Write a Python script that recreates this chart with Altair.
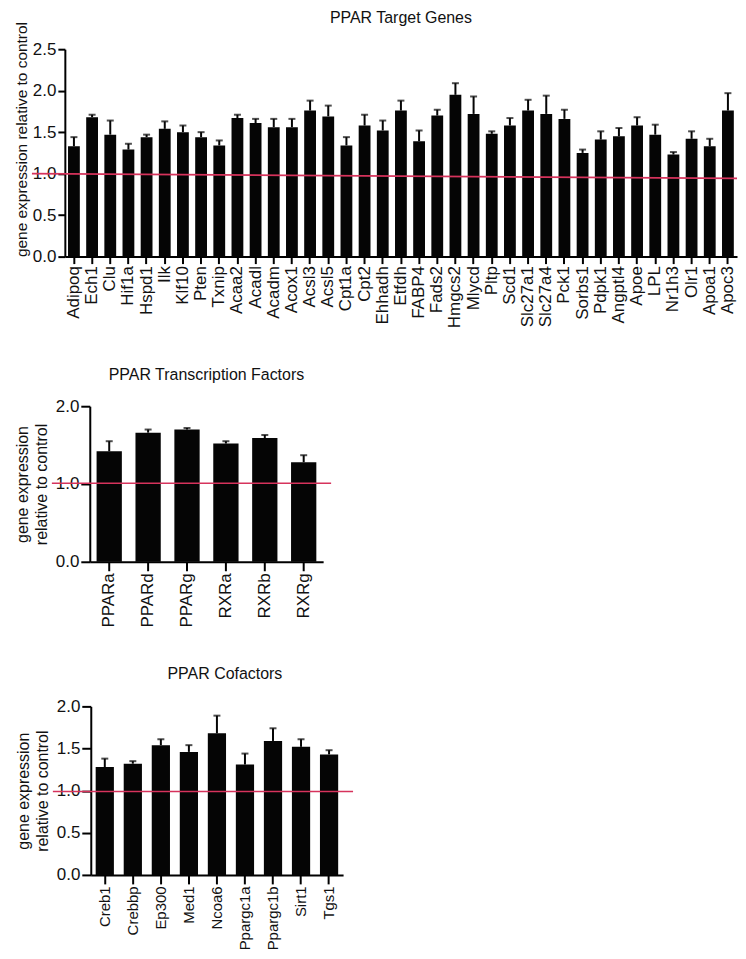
import altair as alt
import pandas as pd

# ---------------- data ----------------
target_genes = ["Adipoq", "Ech1", "Clu", "Hif1a", "Hspd1", "Ilk", "Klf10", "Pten", "Txnip",
                "Acaa2", "Acadl", "Acadm", "Acox1", "Acsl3", "Acsl5", "Cpt1a", "Cpt2", "Ehhadh",
                "Etfdh", "FABP4", "Fads2", "Hmgcs2", "Mlycd", "Pltp", "Scd1", "Slc27a1", "Slc27a4",
                "Pck1", "Sorbs1", "Pdpk1", "Angptl4", "Apoe", "LPL", "Nr1h3", "Olr1", "Apoa1", "Apoc3"]
target_mean = [1.33, 1.68, 1.47, 1.29, 1.44, 1.54, 1.50, 1.44, 1.34,
               1.67, 1.61, 1.56, 1.56, 1.76, 1.69, 1.34, 1.58, 1.52,
               1.76, 1.39, 1.70, 1.95, 1.72, 1.48, 1.58, 1.76, 1.72,
               1.66, 1.25, 1.41, 1.45, 1.58, 1.47, 1.23, 1.42, 1.33, 1.76]
target_err = [0.11, 0.03, 0.17, 0.07, 0.03, 0.09, 0.08, 0.06, 0.06,
              0.04, 0.05, 0.10, 0.10, 0.12, 0.13, 0.10, 0.13, 0.12,
              0.12, 0.13, 0.07, 0.14, 0.21, 0.03, 0.09, 0.13, 0.22,
              0.11, 0.04, 0.10, 0.10, 0.10, 0.12, 0.03, 0.09, 0.09, 0.21]

tf_genes = ["PPARa", "PPARd", "PPARg", "RXRa", "RXRb", "RXRg"]
tf_mean = [1.42, 1.66, 1.70, 1.52, 1.59, 1.28]
tf_err = [0.13, 0.04, 0.02, 0.03, 0.04, 0.09]

cof_genes = ["Creb1", "Crebbp", "Ep300", "Med1", "Ncoa6", "Ppargc1a", "Ppargc1b", "Sirt1", "Tgs1"]
cof_mean = [1.28, 1.32, 1.54, 1.46, 1.68, 1.31, 1.59, 1.52, 1.43]
cof_err = [0.10, 0.03, 0.07, 0.08, 0.21, 0.13, 0.15, 0.09, 0.05]

# control reference line (value at left end, value at right end as drawn)
ref_top = [1.0, 0.943]
ref_mid = [1.01, 1.01]
ref_bot = [0.99, 0.99]

FONT = "Liberation Sans"
RED = "#d6335c"
INK = "#111111"


def panel(genes, means, errs, title, ytitle, width, height, ymax, line_vals, line_x,
          title_offset, title_dx, ytitle_size, ytitle_anchor, tick_size, ytitle_pad, xlabel_size):
    df = pd.DataFrame({"gene": genes, "mean": means,
                       "upper": [m + e for m, e in zip(means, errs)]})
    xenc = alt.X("gene:N", sort=None, title=None,
                 scale=alt.Scale(paddingInner=0.35, paddingOuter=0.175),
                 axis=alt.Axis(labelAngle=-90, labelPadding=2, tickSize=tick_size,
                               labelFontSize=xlabel_size))
    yscale = alt.Scale(domain=[0, ymax], nice=False, zero=True)
    yaxis = alt.Axis(values=[v / 2 for v in range(int(ymax * 2) + 1)], format=".1f",
                     title=ytitle, titlePadding=ytitle_pad, labelPadding=2, tickSize=tick_size,
                     titleFontWeight="normal", titleFontSize=ytitle_size, titleLineHeight=19,
                     titleAnchor=ytitle_anchor)
    bars = alt.Chart(df).mark_bar(color="#050505").encode(
        x=xenc, y=alt.Y("mean:Q", scale=yscale, axis=yaxis))
    err = alt.Chart(df).mark_rule(color="#050505", strokeWidth=2).encode(
        x=alt.X("gene:N", sort=None), y="mean:Q", y2="upper:Q")
    cap = alt.Chart(df).mark_tick(color="#050505", thickness=2, size=7).encode(
        x=alt.X("gene:N", sort=None), y="upper:Q")
    ref_df = pd.DataFrame({"a": [line_vals[0]], "b": [line_vals[1]]})
    ref = alt.Chart(ref_df).mark_rule(color=RED, strokeWidth=1.6).encode(
        x=alt.value(line_x[0]), x2=alt.value(line_x[1]),
        y=alt.Y("a:Q"), y2="b:Q")
    return alt.layer(bars, err, cap, ref).properties(
        width=width, height=height,
        title=alt.TitleParams(title, fontSize=16, font=FONT, fontWeight="normal",
                              color=INK, offset=title_offset, dx=title_dx, anchor="middle"))


def spacer(w):
    return alt.Chart(pd.DataFrame({"v": [0]})).mark_point(opacity=0).encode(
        x=alt.value(0), y=alt.value(0)).properties(width=w, height=1)


top = panel(target_genes, target_mean, target_err, "PPAR Target Genes",
            "gene expression relative to control", 674, 208, 2.5, ref_top, [-33, 674],
            title_offset=-5, title_dx=0, ytitle_size=15.5, ytitle_anchor="start", tick_size=7,
            ytitle_pad=3, xlabel_size=17)
mid = panel(tf_genes, tf_mean, tf_err, "PPAR Transcription Factors",
            ["gene expression", "relative to control"], 234, 156, 2.0, ref_mid, [-38, 242],
            title_offset=14, title_dx=0, ytitle_size=16, ytitle_anchor="middle", tick_size=9,
            ytitle_pad=6, xlabel_size=17)
bot = panel(cof_genes, cof_mean, cof_err, "PPAR Cofactors",
            ["gene expression", "relative to control"], 253, 169, 2.0, ref_bot, [-38, 263],
            title_offset=15, title_dx=8, ytitle_size=16, ytitle_anchor="middle", tick_size=9,
            ytitle_pad=6, xlabel_size=15)

rows = [alt.hconcat(spacer(1), top, spacing=0),
        alt.hconcat(spacer(2), mid, spacing=0),
        alt.hconcat(spacer(4), bot, spacing=0)]

chart = alt.vconcat(*rows, spacing=39).properties(
    padding=0
).configure_view(
    stroke=None
).configure_axis(
    labelFont=FONT, titleFont=FONT, labelFontSize=17, labelColor=INK,
    titleColor=INK, domainColor="#000000", domainWidth=2,
    tickColor="#000000", tickWidth=2, grid=False
).configure_title(font=FONT)

chart.save("out.html", embed_options={"renderer": "svg", "actions": False})
